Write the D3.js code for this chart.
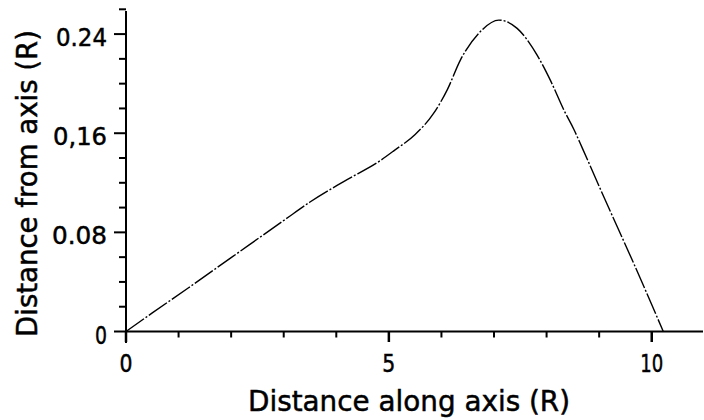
<!DOCTYPE html>
<html>
<head>
<meta charset="utf-8">
<script src="https://cdn.jsdelivr.net/npm/d3@7/dist/d3.min.js"></script>
<style>
  html, body { margin: 0; padding: 0; background: #fff; }
  svg text { font-family: "DejaVu Sans", sans-serif; fill: #000; stroke: #000; stroke-width: 0.5px; }
</style>
</head>
<body>
<svg id="chart" width="704" height="420"></svg>
<script>
// Data
const xValues = [0, 0.5, 1.19, 2.0, 3.03, 3.5, 4.14, 4.84, 5.1, 5.5, 5.85, 6.11, 6.36, 6.74, 7.09, 7.44, 7.82, 8.08, 8.33, 8.52, 8.68, 9.09, 9.66, 10.22];
const yValues = [0, 0.015, 0.0353, 0.0596, 0.0905, 0.1045, 0.121, 0.138, 0.146, 0.159, 0.176, 0.195, 0.219, 0.242, 0.2513, 0.2446, 0.223, 0.202, 0.1786, 0.163, 0.148, 0.1085, 0.0547, 0];
const yTickValues = [0, 0.08, 0.16, 0.24];
const yTickLabels = ["0", "0.08", "0,16", "0.24"];
const yTickLabelWidths = [12, 55, 54, 51];
const yMinorTicks = [0.02, 0.04, 0.06, 0.10, 0.12, 0.14, 0.18, 0.20, 0.22, 0.26];
const xTickValues = [0, 5, 10];
const xTickLabels = ["0", "5", "10"];
const xTickLabelWidths = [13, 13, 23];
const xMinorTicks = [1, 2, 3, 4, 6, 7, 8, 9];
const xTitle = "Distance along axis (R)";
const yTitle = "Distance from axis (R)";

const svg = d3.select("#chart");
const x = d3.scaleLinear().domain([0, 11]).range([126, 704.3]);
const y = d3.scaleLinear().domain([0, 0.26]).range([331.5, 9.3]);

const g = svg.append("g");

// Axis lines
g.append("line").attr("x1", x(0)).attr("x2", 703).attr("y1", y(0)).attr("y2", y(0))
  .attr("stroke", "#000").attr("stroke-width", 2);
g.append("line").attr("x1", x(0)).attr("x2", x(0)).attr("y1", 11).attr("y2", 343)
  .attr("stroke", "#000").attr("stroke-width", 2);

// Y ticks
g.selectAll(".ymaj").data(yTickValues).join("line")
  .attr("x1", 114).attr("x2", x(0)).attr("y1", d => y(d)).attr("y2", d => y(d))
  .attr("stroke", "#000").attr("stroke-width", 2);
g.selectAll(".ymin").data(yMinorTicks).join("line")
  .attr("x1", 119).attr("x2", x(0)).attr("y1", d => y(d)).attr("y2", d => y(d))
  .attr("stroke", "#000").attr("stroke-width", 2);

// X ticks
g.selectAll(".xmaj").data(xTickValues).join("line")
  .attr("x1", d => x(d)).attr("x2", d => x(d)).attr("y1", y(0)).attr("y2", 342)
  .attr("stroke", "#000").attr("stroke-width", 2.5);
g.selectAll(".xmin").data(xMinorTicks).join("line")
  .attr("x1", d => x(d)).attr("x2", d => x(d)).attr("y1", y(0)).attr("y2", 337.5)
  .attr("stroke", "#000").attr("stroke-width", 2);

// Y tick labels
g.selectAll(".ylab").data(yTickValues).join("text")
  .attr("x", 107).attr("y", d => y(d) + 12)
  .attr("text-anchor", "end")
  .attr("font-size", 25)
  .attr("textLength", (d, i) => yTickLabelWidths[i])
  .attr("lengthAdjust", "spacingAndGlyphs")
  .text((d, i) => yTickLabels[i]);

// X tick labels
g.selectAll(".xlab").data(xTickValues).join("text")
  .attr("x", d => x(d)).attr("y", 372)
  .attr("text-anchor", "middle")
  .attr("font-size", 25)
  .attr("textLength", (d, i) => xTickLabelWidths[i])
  .attr("lengthAdjust", "spacingAndGlyphs")
  .text((d, i) => xTickLabels[i]);

// Titles
g.append("text").attr("x", 409).attr("y", 411)
  .attr("text-anchor", "middle").attr("font-size", 29)
  .attr("textLength", 322).attr("lengthAdjust", "spacingAndGlyphs")
  .text(xTitle);
g.append("text").attr("transform", "translate(37,183.5) rotate(-90)")
  .attr("text-anchor", "middle").attr("font-size", 29)
  .attr("textLength", 307).attr("lengthAdjust", "spacingAndGlyphs")
  .text(yTitle);

// Curve
const pts = xValues.map((v, i) => [v, yValues[i]]);
const line = d3.line().x(d => x(d[0])).y(d => y(d[1])).curve(d3.curveMonotoneX);
g.append("path").datum(pts).attr("d", line)
  .attr("fill", "none").attr("stroke", "#000").attr("stroke-width", 1.4)
  .attr("stroke-dasharray", "22,2,2,2");
</script>
</body>
</html>
